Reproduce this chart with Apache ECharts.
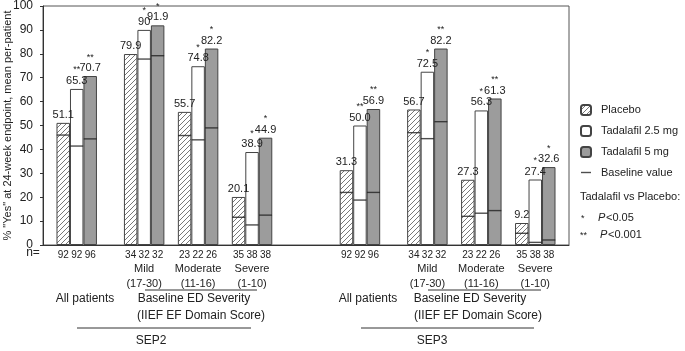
<!DOCTYPE html>
<html>
<head>
<meta charset="utf-8">
<script src="https://cdn.jsdelivr.net/npm/echarts@6/dist/echarts.min.js"></script>
<style>
  html, body { margin: 0; padding: 0; background: #fff; }
  #chart { width: 685px; height: 351px; }
</style>
</head>
<body>
<div id="chart"></div>
<script>
// groups: SEP2 then SEP3, each All / Mild / Moderate / Severe
const subLabels = ['', 'Mild\n(17-30)', 'Moderate\n(11-16)', 'Severe\n(1-10)',
                   '', 'Mild\n(17-30)', 'Moderate\n(11-16)', 'Severe\n(1-10)'];
// % "yes" values (strings keep the printed form, e.g. "90", "50.0")
const placebo = ['51.1', '79.9', '55.7', '20.1', '31.3', '56.7', '27.3', '9.2'];
const tad25   = ['65.3', '90',   '74.8', '38.9', '50.0', '72.5', '56.3', '27.4'];
const tad5    = ['70.7', '91.9', '82.2', '44.9', '56.9', '82.2', '61.3', '32.6'];
// significance vs placebo
const star25 = ['**', '*', '*', '*', '**', '*', '*', '*'];
const star5  = ['**', '*', '*', '*', '**', '**', '**', '*'];
// baseline values (line inside each bar)
const basePlacebo = [46.0, null, 45.8, 11.6, 22.0, 47.0, 12.0, 4.9];
const base25      = [41.4, 77.8, 44.0, 8.4, 18.8, 44.5, 13.3, 1.1];
const base5       = [44.4, 79.2, 49.0, 12.5, 22.0, 51.6, 14.4, 2.1];
// n per arm
const nPlacebo = [92, 34, 23, 35, 92, 34, 23, 35];
const n25      = [92, 32, 22, 38, 92, 32, 22, 38];
const n5       = [96, 32, 26, 38, 96, 32, 26, 38];

// empty slots before each group (layout), one slot = one bar width
const gapBefore = [1, 2, 1, 1, 5, 2, 1, 1];
const gapAfter = 1;

// build the slot category axis
const categories = [];
const sPlacebo = [], s25 = [], s5 = [], sBase = [];
const labelFor = {};   // slot -> {text, star}
function pushEmpty() {
  categories.push('');
  sPlacebo.push(null); s25.push(null); s5.push(null); sBase.push(null);
}
placebo.forEach((v, i) => {
  for (let g = 0; g < gapBefore[i]; g++) pushEmpty();
  // placebo slot
  let k = categories.length;
  categories.push(String(nPlacebo[i]));
  sPlacebo.push(Number(v)); s25.push(null); s5.push(null); sBase.push(basePlacebo[i]);
  labelFor[k] = { text: v, star: '' };
  // 2.5 mg slot
  k = categories.length;
  categories.push(subLabels[i] ? n25[i] + '\n' + subLabels[i] : String(n25[i]));
  sPlacebo.push(null); s25.push(Number(tad25[i])); s5.push(null); sBase.push(base25[i]);
  labelFor[k] = { text: tad25[i], star: star25[i] };
  // 5 mg slot
  k = categories.length;
  categories.push(String(n5[i]));
  sPlacebo.push(null); s25.push(null); s5.push(Number(tad5[i])); sBase.push(base5[i]);
  labelFor[k] = { text: tad5[i], star: star5[i] };
});
for (let g = 0; g < gapAfter; g++) pushEmpty();

// hatch pattern for placebo
const hatch = document.createElement('canvas');
hatch.width = 5; hatch.height = 5;
const hctx = hatch.getContext('2d');
hctx.fillStyle = '#fff';
hctx.fillRect(0, 0, 5, 5);
hctx.strokeStyle = '#555';
hctx.lineWidth = 0.8;
hctx.beginPath();
hctx.moveTo(0, 5); hctx.lineTo(5, 0);
hctx.moveTo(-1, 1); hctx.lineTo(1, -1);
hctx.moveTo(4, 6); hctx.lineTo(6, 4);
hctx.stroke();

const FONT = 'Liberation Sans, Arial, sans-serif';
const TXT = '#222';

const valueLabel = {
  show: true,
  position: 'top',
  distance: 2,
  formatter: p => {
    const l = labelFor[p.dataIndex];
    if (!l) return '';
    return l.star ? '{s|' + l.star + '}\n{v|' + l.text + '}' : '{v|' + l.text + '}';
  },
  rich: {
    s: { fontSize: 9, lineHeight: 10, color: TXT, fontFamily: FONT, align: 'center' },
    v: { fontSize: 11, lineHeight: 12, color: TXT, fontFamily: FONT, align: 'center' }
  }
};

function barSeries(name, data, color) {
  return {
    name: name,
    type: 'bar',
    data: data,
    barWidth: '100%',
    barGap: '-100%',
    itemStyle: { color: color, borderColor: '#444', borderWidth: 1 },
    label: valueLabel,
    emphasis: { disabled: true }
  };
}

const chart = echarts.init(document.getElementById('chart'));

function txt(x, y, text, opts) {
  opts = opts || {};
  return {
    type: 'text', x: x, y: y,
    style: {
      text: text, fill: TXT,
      font: (opts.italic ? 'italic ' : '') + (opts.size || 12) + 'px ' + FONT,
      textAlign: opts.align || 'center', textVerticalAlign: 'middle'
    }
  };
}
const hline = (x1, x2, y) => ({
  type: 'line', shape: { x1: x1, y1: y, x2: x2, y2: y }, style: { stroke: '#333', lineWidth: 1 }
});

chart.setOption({
  animation: false,
  backgroundColor: '#fff',
  textStyle: { fontFamily: FONT },
  grid: {
    left: 43, top: 6, right: 116, bottom: 106,
    outerBoundsMode: 'none', containLabel: false,
    show: true, borderColor: '#555', borderWidth: 1
  },
  legend: {
    orient: 'vertical',
    left: 580, top: 104,
    padding: 0,
    itemWidth: 10, itemHeight: 10, itemGap: 9,
    selectedMode: false,
    textStyle: { fontSize: 11, color: TXT, padding: [0, 0, 0, 5] },
    data: [
      { name: 'Placebo' },
      { name: 'Tadalafil 2.5 mg' },
      { name: 'Tadalafil 5 mg' },
      { name: 'Baseline value', icon: 'path://M0,0M0,4.3H10V5.7H0ZM10,10' }
    ]
  },
  xAxis: {
    type: 'category',
    data: categories,
    axisTick: { show: false },
    axisLine: { lineStyle: { color: '#333' } },
    axisLabel: {
      interval: 0, color: TXT, margin: 3,
      formatter: v => v ? v.split('\n').map((p, j) => (j ? '{g|' : '{n|') + p + '}').join('\n') : '',
      rich: {
        n: { fontSize: 10, lineHeight: 14, color: TXT, fontFamily: FONT },
        g: { fontSize: 11, lineHeight: 14.5, color: TXT, fontFamily: FONT }
      }
    }
  },
  yAxis: {
    type: 'value',
    min: 0, max: 100, interval: 10,
    name: '% "Yes" at 24-week endpoint, mean per-patient',
    nameLocation: 'middle',
    nameGap: 30,
    nameMoveOverlap: false,
    nameTextStyle: { fontSize: 11, color: TXT },
    axisLine: { show: true, lineStyle: { color: '#333' } },
    axisTick: { show: true, length: 3, lineStyle: { color: '#333' } },
    splitLine: { show: false },
    axisLabel: { fontSize: 12, color: TXT, margin: 10 }
  },
  series: [
    barSeries('Placebo', sPlacebo, { image: hatch, repeat: 'repeat' }),
    barSeries('Tadalafil 2.5 mg', s25, '#fff'),
    barSeries('Tadalafil 5 mg', s5, '#9c9c9c'),
    {
      name: 'Baseline value',
      type: 'scatter',
      data: sBase,
      symbol: 'rect',
      symbolSize: [13, 1.4],
      itemStyle: { color: '#222' },
      z: 5,
      emphasis: { disabled: true }
    }
  ],
  graphic: [
    txt(33, 253, 'n='),
    txt(85, 299, 'All patients'),
    txt(368, 299, 'All patients'),
    txt(194, 299, 'Baseline ED Severity'),
    txt(470, 299, 'Baseline ED Severity'),
    txt(201, 316, '(IIEF EF Domain Score)'),
    txt(478, 316, '(IIEF EF Domain Score)'),
    hline(145, 257, 290),
    hline(428, 541, 290),
    hline(77, 251, 328),
    hline(361, 534, 328),
    txt(151, 341, 'SEP2'),
    txt(432, 341, 'SEP3'),
    txt(580, 197, 'Tadalafil vs Placebo:', { align: 'left', size: 11 }),
    txt(581, 219, '*', { align: 'left', size: 9 }),
    txt(598, 218, 'P', { align: 'left', size: 11, italic: true }),
    txt(606, 218, '<0.05', { align: 'left', size: 11 }),
    txt(580, 236, '**', { align: 'left', size: 9 }),
    txt(600, 235, 'P', { align: 'left', size: 11, italic: true }),
    txt(608, 235, '<0.001', { align: 'left', size: 11 })
  ]
});
</script>
</body>
</html>
